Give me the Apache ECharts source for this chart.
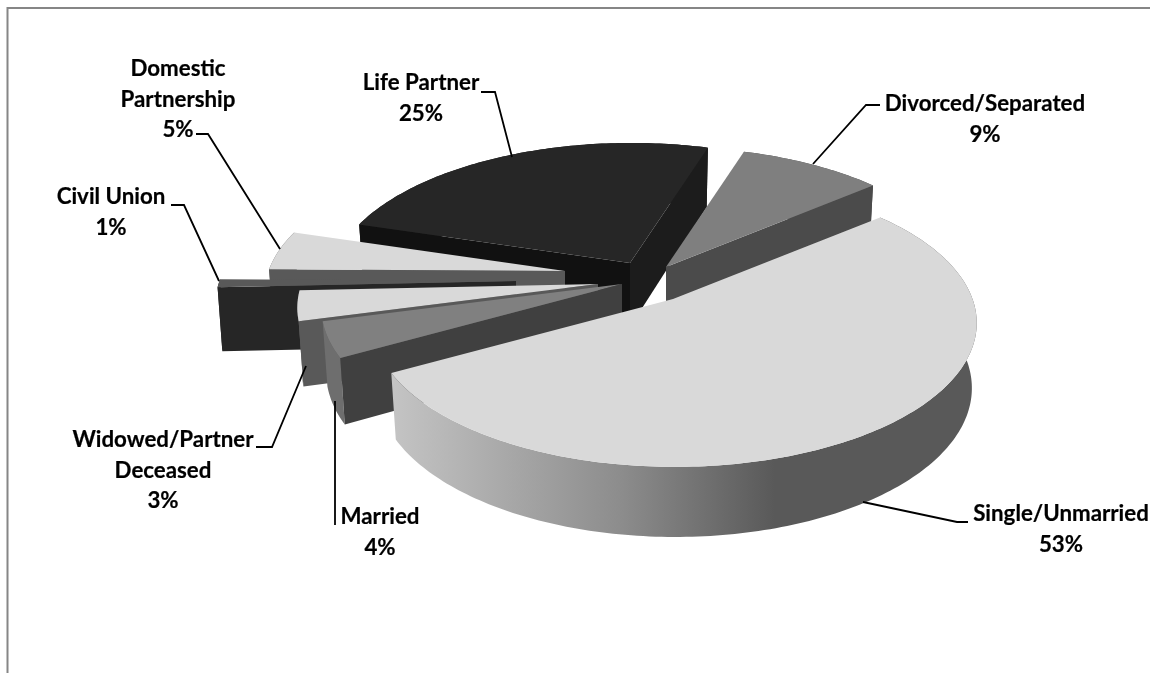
<!DOCTYPE html>
<html>
<head>
<meta charset="utf-8">
<style>html,body{margin:0;padding:0;background:#fff}#c{width:1150px;height:673px}</style>
<script src="https://cdn.jsdelivr.net/npm/echarts@6/dist/echarts.min.js"></script>
</head>
<body>
<div id="c"></div>
<script>
// ---- data ----
const categories = ['Single/Unmarried','Married','Widowed/Partner Deceased','Civil Union','Domestic Partnership','Life Partner','Divorced/Separated'];
const values = [53,4,3.4,0.9,4.5,25.2,9];
// ---- label wrapping ----
const labelLines = [['Single/Unmarried'],['Married'],['Widowed/Partner','Deceased'],['Civil Union'],['Domestic','Partnership'],['Life Partner'],['Divorced/Separated']];

// ---- style / layout ----
const topColors  = ['#d9d9d9','#808080','#d9d9d9','#595959','#d9d9d9','#262626','#7f7f7f'];
const rimColors  = [null,'#6e6e6e','#666666','#262626','#595959','#1c1c1c','#4c4c4c'];
const cutColors  = ['#595959','#404040','#595959','#262626','#595959','#111111','#4b4b4b'];
const endColors  = ['#595959','#404040','#595959','#262626','#595959','#1c1c1c','#4b4b4b'];
const pieCenter = [640,280];
const explode = [[33,19],[-18,4],[-42,4],[-124,1],[-75,-9],[-10,-17],[26,-13]];
const drawOrder = [5,6,4,3,2,1,0];
const startDeg = 40, radX = 298, radY = 140, persA = -0.005, persB = 0.166, depth = 64, taper = 0.016;
const labelAnchors = [[1061,514],[380,517],[163,440],[111,197],[178,69],[421,83],[985,104]];
const lineGap = 30.5;
const leaders = [
  [[968,522],[957,522],[863,502]],
  [[335,525],[335,401]],
  [[256,447],[272,447],[306,366]],
  [[171,205],[184,205],[219,281]],
  [[196,134],[208,134],[280,249]],
  [[481,92],[495,92],[512,157]],
  [[880,105],[866,105],[813,164]]
];
const font = 'Lato';
const fontSize = 22.3;

const total = values.reduce((a,b)=>a+b,0);
const starts = [];
values.reduce((acc,v,i)=>{starts[i]=acc;return acc-v/total*360;},startDeg);

function project(i,deg,r,down){
  const t = deg*Math.PI/180, X = r*Math.cos(t), Y = r*Math.sin(t);
  const w = 1+persA*X+persB*Y;
  const ox = pieCenter[0]+explode[i][0], oy = pieCenter[1]+explode[i][1];
  const sx = radX*X/w*(down?1-taper:1);
  const sy = -radY*Y/w + (down?depth/Math.sqrt(w):0);
  return [ox+sx,oy+sy];
}
function arc(i,a,b,down){
  const n = Math.max(2,Math.ceil(Math.abs(a-b)));
  const out=[];
  for(let k=0;k<=n;k++) out.push(project(i,a+(b-a)*k/n,1,down));
  return out;
}
function cutVisibleStart(d){return Math.cos(d*Math.PI/180)<0;}
function cutVisibleEnd(d){return Math.cos(d*Math.PI/180)>0;}
function poly(points,fill){return {type:'polygon',silent:true,shape:{points},style:{fill,stroke:null}};}

function renderSlice(params,api){
  const i = api.value(0);
  const a = starts[i], b = a-api.value(1)/total*360;
  const children=[];
  const rimFill = rimColors[i] || new echarts.graphic.LinearGradient(393,0,775,0,[
    {offset:0,color:'#c4c4c4'},{offset:0.3,color:'#a8a8a8'},{offset:0.6,color:'#8c8c8c'},{offset:0.85,color:'#6c6c6c'},{offset:1,color:'#595959'}],true);
  children.push(poly(arc(i,a,b,false).concat(arc(i,b,a,true)),rimFill));
  if(cutVisibleStart(a)) children.push(poly([project(i,a,0,false),project(i,a,1,false),project(i,a,1,true),project(i,a,0,true)],cutColors[i]));
  if(cutVisibleEnd(b)) children.push(poly([project(i,b,0,false),project(i,b,1,false),project(i,b,1,true),project(i,b,0,true)],endColors[i]));
  children.push(poly([project(i,a,0,false)].concat(arc(i,a,b,false)),topColors[i]));
  return {type:'group',children};
}
function renderLabel(params,api){
  const i = api.value(0);
  const children=[{type:'polyline',silent:true,shape:{points:leaders[i]},style:{stroke:'#000',lineWidth:1.8,fill:null}}];
  const lines = labelLines[i].concat([Math.round(api.value(1))+'%']);
  lines.forEach((t,k)=>children.push({type:'text',silent:true,style:{text:t,x:labelAnchors[i][0],y:labelAnchors[i][1]+k*lineGap,
    fill:'#000',stroke:'#000',lineWidth:0.2,font:'700 '+fontSize+'px '+font,align:'center',verticalAlign:'middle'}}));
  return {type:'group',children};
}
const chart = echarts.init(document.getElementById('c'),null,{width:1150,height:673});
chart.setOption({
  animation:false,
  backgroundColor:'#fff',
  graphic:[{type:'polyline',silent:true,shape:{points:[[7.5,673],[7.5,8],[1150,8]]},style:{stroke:'#868686',lineWidth:2,fill:null}}],
  series:[
    {type:'custom',coordinateSystem:'none',renderItem:renderSlice,silent:true,z:2,
     data:drawOrder.map(i=>[i,values[i]])},
    {type:'custom',coordinateSystem:'none',renderItem:renderLabel,silent:true,z:3,
     data:categories.map((c,i)=>({name:c,value:[i,values[i]]}))}
  ]
});
</script>
</body>
</html>
